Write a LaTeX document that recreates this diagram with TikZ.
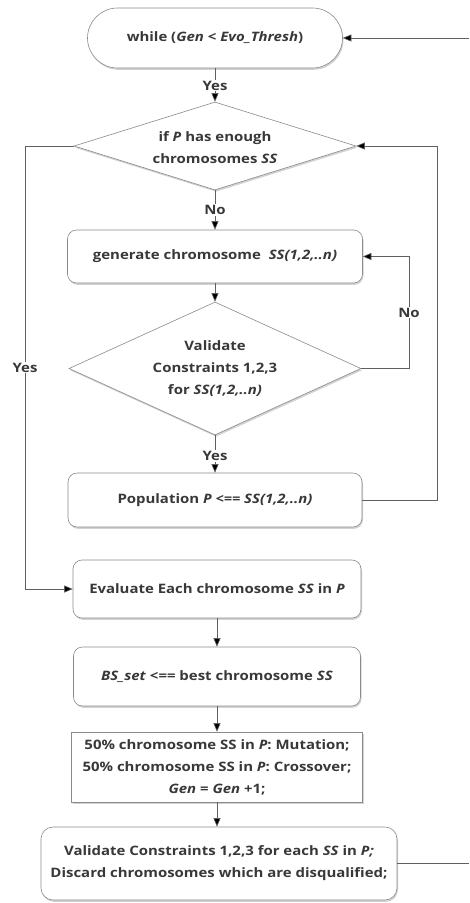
\documentclass[tikz,border=0pt]{standalone}
\usepackage{fontspec}
\setmainfont{Open Sans}[FakeStretch=1.15]
\usetikzlibrary{shapes.geometric,shadows,arrows.meta}
\definecolor{txt}{HTML}{383838}
\definecolor{edge}{HTML}{8A8A8A}
\definecolor{wire}{HTML}{606060}
\begin{document}
\begin{tikzpicture}[x=1pt,y=-1pt,
  font=\fontsize{13}{22}\selectfont\bfseries, text=txt,
  base/.style={draw=edge, line width=0.6pt, fill=white,
    drop shadow={shadow xshift=1pt, shadow yshift=-1.8pt, fill=black!35},
    inner sep=0pt, align=center},
  term/.style={base, rounded corners=30pt},
  proc/.style={base, rounded corners=9pt},
  plain/.style={base},
  dec/.style={base, diamond},
  dtext/.style={align=center, inner sep=0pt},
  arr/.style={draw=wire, line width=0.6pt, -{Triangle[length=8.5pt,width=7pt,fill=black]}},
  wireln/.style={draw=wire, line width=0.6pt},
  lbl/.style={fill=white, inner sep=1pt, text=txt}
]
\useasboundingbox (0,0) rectangle (469,903);

\node[term, minimum width=255pt, minimum height=60pt] (while) at (215,38)
  {while (\textit{Gen} < \textit{Evo\_Thresh})};
\node[dec, minimum width=282pt, minimum height=88pt] (d1) at (215,146) {};
\node[dtext] (d1t) at (215,148) {if \textit{P} has enough\\chromosomes \textit{SS}};
\node[proc, minimum width=295pt, minimum height=53pt] (gen) at (215,256.5)
  {generate chromosome\ \ \textit{SS(1,2,..n)}};
\node[dec, minimum width=292pt, minimum height=133pt] (d2) at (215,368.5) {};
\node[dtext] (d2t) at (215,369) {Validate\\Constraints 1,2,3\\for \textit{SS(1,2,..n)}};
\node[proc, minimum width=294pt, minimum height=54pt] (pop) at (215,500)
  {Population \textit{P <== SS(1,2,..n)}};
\node[proc, minimum width=288pt, minimum height=58pt] (eval) at (217,589)
  {Evaluate Each chromosome \textit{SS} in \textit{P}};
\node[proc, minimum width=287pt, minimum height=59pt] (bs) at (217,676.5)
  {\textit{BS\_set} <== best chromosome \textit{SS}};
\node[plain, minimum width=291pt, minimum height=70pt] (mut) at (217,767)
  {50\% chromosome SS in \textit{P}: Mutation;\\50\% chromosome SS in \textit{P}: Crossover;\\\textit{Gen} = \textit{Gen} +1;};
\node[base, rounded corners=12pt, minimum width=356pt, minimum height=73pt] (val) at (219,863.5)
  {Validate Constraints 1,2,3 for each \textit{SS} in \textit{P;}\\Discard chromosomes which are disqualified;};

\coordinate (inR) at (469,38);
\coordinate (outR) at (469,863.5);
\coordinate (L) at (25,146);
\coordinate (R) at (437,146);
\coordinate (N) at (409,368.5);

\draw[arr] (inR) -- (while.east);
\draw[arr] (while.south) -- node[lbl, pos=0.52]{Yes} (d1.north);
\draw[arr] (d1.south) -- node[lbl, pos=0.5]{No} (gen.north);
\draw[arr] (gen.south) -- (d2.north);
\draw[arr] (d2.south) -- node[lbl, pos=0.55]{Yes} (pop.north);
\draw[arr] (d2.east) -- (N) |- node[lbl, pos=0.25]{No} (gen.east);
\draw[arr] (pop.east) -| (R) -- (d1.east);
\draw[arr] (d1.west) -- (L) |- node[lbl, pos=0.25]{Yes} (eval.west);
\draw[arr] (eval.south) -- (bs.north);
\draw[arr] (bs.south) -- (mut.north);
\draw[arr] (mut.south) -- (mut.south |- val.north);
\draw[wireln] (val.east) -- (outR);
\end{tikzpicture}
\end{document}
